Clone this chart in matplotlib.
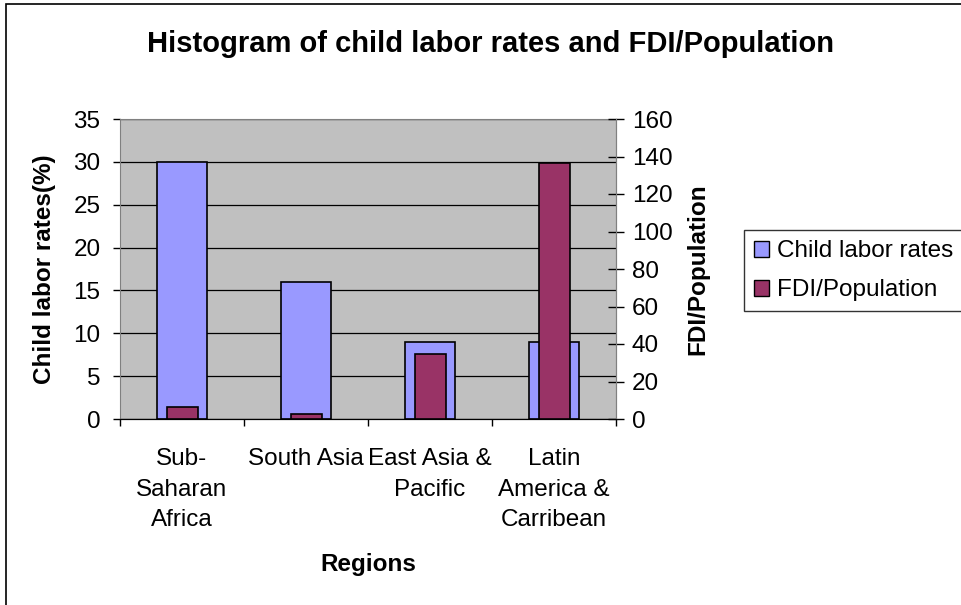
import matplotlib
matplotlib.use("Agg")
import matplotlib.pyplot as plt
from matplotlib.patches import Rectangle, Patch

plt.rcParams['font.family'] = ['Liberation Sans', 'DejaVu Sans']

# data
regions = ["Sub-\nSaharan\nAfrica", "South Asia", "East Asia &\nPacific",
           "Latin\nAmerica &\nCarribean"]
child_labor = [30, 16, 9, 9]
fdi_pop = [6.6, 2.5, 34.7, 136.4]

blue = "#9999FF"
maroon = "#993366"
fs = 17.5

W, H = 962, 605
fig = plt.figure(figsize=(W / 100, H / 100), dpi=100)

# outer chart border
fig.patches.append(Rectangle((6 / W, -0.05), 1.1, 1 - 4 / H + 0.05,
                             transform=fig.transFigure, fill=False,
                             edgecolor="black", linewidth=1.2))

ax = fig.add_axes([120 / W, (H - 419) / H, 496 / W, 300 / H])
ax.set_facecolor("#C0C0C0")
x = list(range(len(regions)))
ax.bar(x, child_labor, width=0.4, color=blue, edgecolor="black",
       linewidth=1.2, zorder=2)
ax.set_xlim(-0.5, 3.5)
ax.set_ylim(0, 35)
ax.set_yticks(range(0, 36, 5))
ax.yaxis.grid(True, color="black", linewidth=0.9)
ax.set_axisbelow(True)
ax.set_xticks([-0.5, 0.5, 1.5, 2.5, 3.5])
ax.set_xticklabels([])
ax.set_xticks(x, minor=True)
ax.set_xticklabels(regions, minor=True, fontsize=fs, linespacing=1.5,
                   va="top")
ax.tick_params(axis="x", which="major", direction="out", length=5, width=1)
ax.tick_params(axis="x", which="minor", length=0, pad=21)
ax.tick_params(axis="y", direction="out", length=5, width=1, labelsize=fs,
               pad=9)
for s in ["left", "top", "right"]:
    ax.spines[s].set_color("#808080")
ax.spines["bottom"].set_color("black")
ax.set_ylabel("Child labor rates(%)", fontsize=fs, fontweight="bold")
ax.yaxis.set_label_coords(-75 / 496, 0.5)
ax.yaxis.label.set_va("center")
ax.set_xlabel("Regions", fontsize=fs, fontweight="bold")
ax.xaxis.set_label_coords(0.5, -146 / 300)
ax.xaxis.label.set_va("center")

ax2 = ax.twinx()
ax2.bar(x, fdi_pop, width=0.25, color=maroon, edgecolor="black",
        linewidth=1.2, zorder=3)
ax2.set_ylim(0, 160)
ax2.set_yticks(range(0, 161, 20))
ax2.tick_params(axis="y", direction="inout", length=11, width=1,
                labelsize=fs, pad=6)
ax2.spines["right"].set_color("#808080")
ax2.spines["left"].set_visible(False)
ax2.spines["top"].set_visible(False)
ax2.set_ylabel("FDI/Population", fontsize=fs, fontweight="bold")
ax2.yaxis.set_label_coords(1 + 82 / 496, 0.5)
ax2.yaxis.label.set_va("center")

fig.text(491 / W, 1 - 52 / H, "Histogram of child labor rates and FDI/Population",
         fontsize=21, fontweight="bold", ha="center", va="baseline")

handles = [Patch(facecolor=blue, edgecolor="black", linewidth=1),
           Patch(facecolor=maroon, edgecolor="black", linewidth=1)]
leg = fig.legend(handles, ["Child labor rates", "FDI/Population"],
                 loc="upper left", bbox_to_anchor=(744 / W, 1 - 230 / H),
                 fontsize=fs, fancybox=False, frameon=True,
                 handlelength=0.62, handleheight=0.62, handletextpad=0.3,
                 borderpad=0.42, labelspacing=0.7, borderaxespad=0)
leg.get_frame().set_edgecolor("black")
leg.get_frame().set_linewidth(1)

fig.savefig("out.png", dpi=100)
